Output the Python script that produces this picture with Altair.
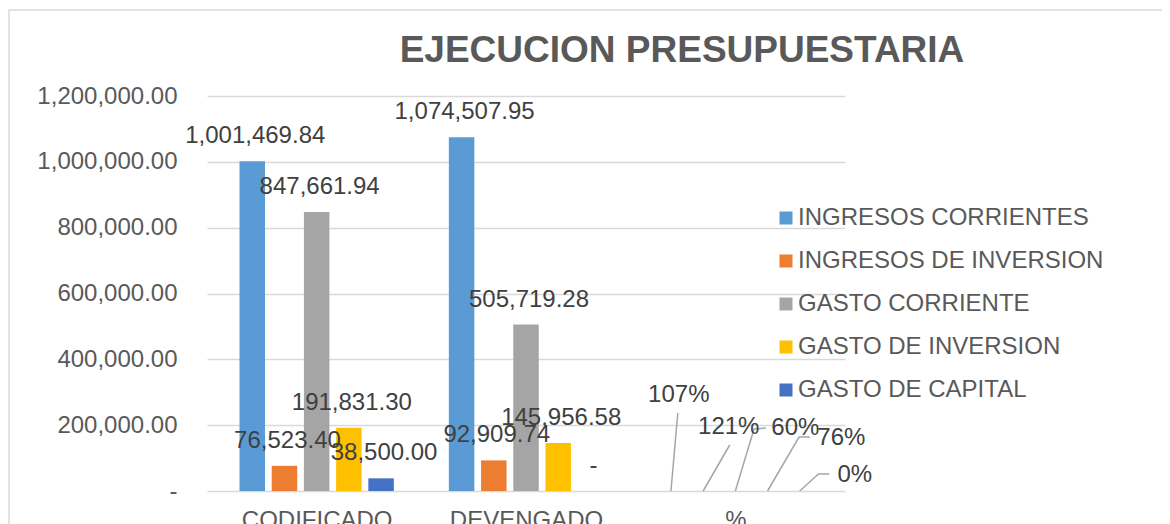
import json
import altair as alt
import pandas as pd

# ---------------- data ----------------
categories = ["CODIFICADO", "DEVENGADO", "%"]
series = ["INGRESOS CORRIENTES", "INGRESOS DE INVERSION", "GASTO CORRIENTE",
          "GASTO DE INVERSION", "GASTO DE CAPITAL"]
codificado = [1001469.84, 76523.40, 847661.94, 191831.30, 38500.00]
devengado = [1074507.95, 92909.74, 505719.28, 145956.58, 0.0]
porcentaje = [1.07, 1.21, 0.60, 0.76, 0.0]
colors = ["#5B9BD5", "#ED7D31", "#A5A5A5", "#FFC000", "#4472C4"]
y_ticks = [0, 200000, 400000, 600000, 800000, 1000000, 1200000]

# ---------------- layout ----------------
PLOT_W, PLOT_H = 638, 395
Y_MAX = 1200000
SLOTS = 6.5          # bar slots per category (5 bars + gap)
FIRST = 1.25         # center of first bar within a category
X_MAX = SLOTS * len(categories)
PX = PLOT_W / X_MAX  # pixels per slot
FONT = "Liberation Sans"
TEXT = "#595959"
FRAME_TOP = -86      # chart-area border, px above the plot area

def px_to_y(py):
    return (PLOT_H - py) / PLOT_H * Y_MAX

values_by_cat = [codificado, devengado, porcentaje]
rows = []
for g, cat in enumerate(categories):
    for i, s in enumerate(series):
        v = values_by_cat[g][i]
        if cat == "%":
            lab = f"{round(v * 100)}%"
        else:
            lab = "-" if v == 0 else f"{v:,.2f}"
        rows.append({"cat": cat, "series": s, "x": g * SLOTS + FIRST + i,
                     "value": v, "label": lab})
df = pd.DataFrame(rows)

amount = df[df.cat != "%"].copy()
pct = df[df.cat == "%"].copy()

# % labels placed away from bars with leader lines (offsets in px from bar top-center)
pct_layout = {
    "INGRESOS CORRIENTES": dict(label=(8, -96), pts=[(7, -78)]),
    "INGRESOS DE INVERSION": dict(label=(26, -64), pts=[(27, -46)]),
    "GASTO CORRIENTE": dict(label=(61, -63), pts=[(19, -62), (31, -63)]),
    "GASTO DE INVERSION": dict(label=(75, -53), pts=[(32, -54), (43, -54)]),
    "GASTO DE CAPITAL": dict(label=(56, -16), pts=[(19, -17), (30, -17)]),
}
pct_labels, leader = [], []
for r in pct.itertuples():
    lay = pct_layout[r.series]
    pct_labels.append({"x": r.x + lay["label"][0] / PX,
                       "y": px_to_y(PLOT_H + lay["label"][1]), "label": r.label})
    pts = [(0, 0)] + lay["pts"]
    for k, (dx, dy) in enumerate(pts):
        leader.append({"series": r.series, "k": k, "x": r.x + dx / PX,
                       "y": px_to_y(PLOT_H + dy)})
pct_labels = pd.DataFrame(pct_labels)
leader = pd.DataFrame(leader)

# ---------------- scales / axes ----------------
xscale = alt.Scale(domain=[0, X_MAX], nice=False, zero=False)
yscale = alt.Scale(domain=[0, Y_MAX], nice=False)
cat_centers = [g * SLOTS + SLOTS / 2 for g in range(len(categories))]
x_axis = alt.Axis(values=cat_centers,
                  labelExpr=f"{json.dumps(categories)}[round((datum.value - {SLOTS/2}) / {SLOTS})]",
                  grid=False, ticks=False, domain=False, title=None,
                  labelFontSize=24, labelColor=TEXT, labelFont=FONT, labelPadding=17)
y_axis = alt.Axis(values=y_ticks,
                  labelExpr="datum.value == 0 ? '-' : format(datum.value, ',.2f')",
                  grid=True, gridColor="#D9D9D9", gridWidth=1.5, domain=False,
                  ticks=False, title=None, labelFontSize=24, labelColor=TEXT,
                  labelFont=FONT, labelPadding=30)

frame = alt.Chart(pd.DataFrame({"a": [0]})).mark_rect(
    fill="transparent", stroke="#D9D9D9", strokeWidth=1.5
).encode(x=alt.value(-198), y=alt.value(FRAME_TOP), x2=alt.value(1300), y2=alt.value(900))

bars = alt.Chart(df).mark_bar(size=25.5, orient="vertical").encode(
    x=alt.X("x:Q", scale=xscale, axis=x_axis),
    y=alt.Y("value:Q", scale=yscale, axis=y_axis, stack=None),
    color=alt.Color("series:N", sort=series,
                    scale=alt.Scale(domain=series, range=colors),
                    legend=alt.Legend(orient="none", legendX=567, legendY=110,
                                      title=None, symbolType="square",
                                      symbolSize=169, symbolStrokeWidth=0,
                                      labelFontSize=24, labelColor=TEXT,
                                      labelFont=FONT, rowPadding=19,
                                      labelOffset=0, labelLimit=0, padding=0)),
)

amount_text = alt.Chart(amount).mark_text(
    dy=-25, dx=3, fontSize=24, color="#404040", font=FONT, baseline="middle"
).encode(x=alt.X("x:Q", scale=xscale), y=alt.Y("value:Q", scale=yscale),
         text="label:N")

leader_lines = alt.Chart(leader).mark_line(color="#A6A6A6", strokeWidth=1.5).encode(
    x=alt.X("x:Q", scale=xscale), y=alt.Y("y:Q", scale=yscale),
    detail="series:N", order="k:O")

pct_text = alt.Chart(pct_labels).mark_text(
    fontSize=24, color="#404040", font=FONT, baseline="middle"
).encode(x=alt.X("x:Q", scale=xscale), y=alt.Y("y:Q", scale=yscale),
         text="label:N")

chart = alt.layer(frame, bars, leader_lines, amount_text, pct_text).properties(
    width=PLOT_W, height=PLOT_H,
    title=alt.TitleParams("EJECUCION PRESUPUESTARIA", fontSize=37, fontWeight="bold",
                          color=TEXT, font=FONT, anchor="middle", frame="group",
                          dx=156, offset=26, dy=-FRAME_TOP + 1),
    autosize=alt.AutoSizeParams(type="none"),
    padding={"left": 199, "top": 88, "right": 317, "bottom": 33},
).configure(font=FONT, background="white").configure_view(strokeWidth=0, stroke="transparent")

chart.save("out.html", embed_options={"renderer": "svg", "actions": False})
